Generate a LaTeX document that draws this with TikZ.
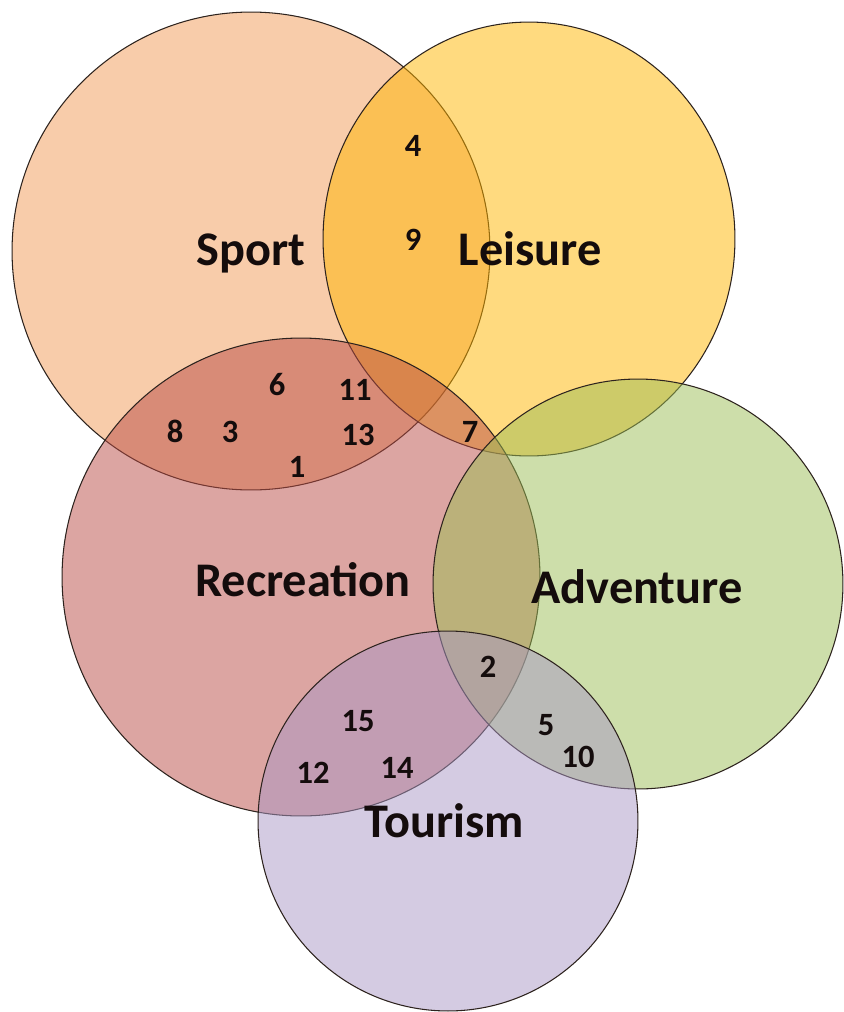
\documentclass[tikz,border=0pt]{standalone}
\usepackage{fontspec}
\setmainfont{Carlito}
\usetikzlibrary{shapes.geometric}
\definecolor{sportc}{RGB}{241,153,85}
\definecolor{leisurec}{RGB}{255,181,0}
\definecolor{recc}{RGB}{185,75,69}
\definecolor{advc}{RGB}{155,189,85}
\definecolor{tourc}{RGB}{169,151,197}
\definecolor{rim}{RGB}{45,35,30}
\definecolor{ink}{RGB}{20,12,12}
\begin{document}
\begin{tikzpicture}[x=0.02cm,y=-0.02cm,
  setbox/.style={draw=rim,line width=0.6pt,fill opacity=0.5,inner sep=0pt,outer sep=0pt},
  setlabel/.style={anchor=base,font=\fontsize{27.5}{32}\selectfont\bfseries,text=ink,inner sep=0pt},
  item/.style={anchor=base,font=\fontsize{18.5}{22}\selectfont\bfseries,text=ink,inner sep=0pt}]
\useasboundingbox (0,0) rectangle (843,1012);
% the five sets, drawn back to front
\node[setbox,circle,fill=sportc,minimum size=9.56cm] (sport) at (251,251) {};
\node[setbox,ellipse,fill=leisurec,minimum width=8.24cm,minimum height=8.68cm] (leisure) at (529,239) {};
\node[setbox,circle,fill=recc,minimum size=9.56cm] (recreation) at (301,577) {};
\node[setbox,circle,fill=advc,minimum size=8.2cm] (adventure) at (638,584) {};
\node[setbox,circle,fill=tourc,minimum size=7.6cm] (tourism) at (448,821) {};
% set names
\node[setlabel] (lsport) at (251,265) {Sport};
\node[setlabel] (lleisure) at (530,265) {Leisure};
\node[setlabel] (lrec) at (303,596) {Recreation};
\node[setlabel] (ladv) at (637,603) {Adventure};
\node[setlabel] (ltour) at (444,837) {Tourism};
% numbered items
\node[item] (n4) at (413,156) {4};
\node[item] (n9) at (413,250) {9};
\node[item] (n6) at (277,395) {6};
\node[item] (n11) at (355,400) {11};
\node[item] (n8) at (175,442) {8};
\node[item] (n3) at (230,442) {3};
\node[item] (n13) at (358,445) {13};
\node[item] (n1) at (297,477) {1};
\node[item] (n7) at (470,442) {7};
\node[item] (n2) at (488,677) {2};
\node[item] (n15) at (358,731) {15};
\node[item] (n5) at (546,735) {5};
\node[item] (n10) at (578,767) {10};
\node[item] (n12) at (313,783) {12};
\node[item] (n14) at (397,778) {14};
\end{tikzpicture}
\end{document}
